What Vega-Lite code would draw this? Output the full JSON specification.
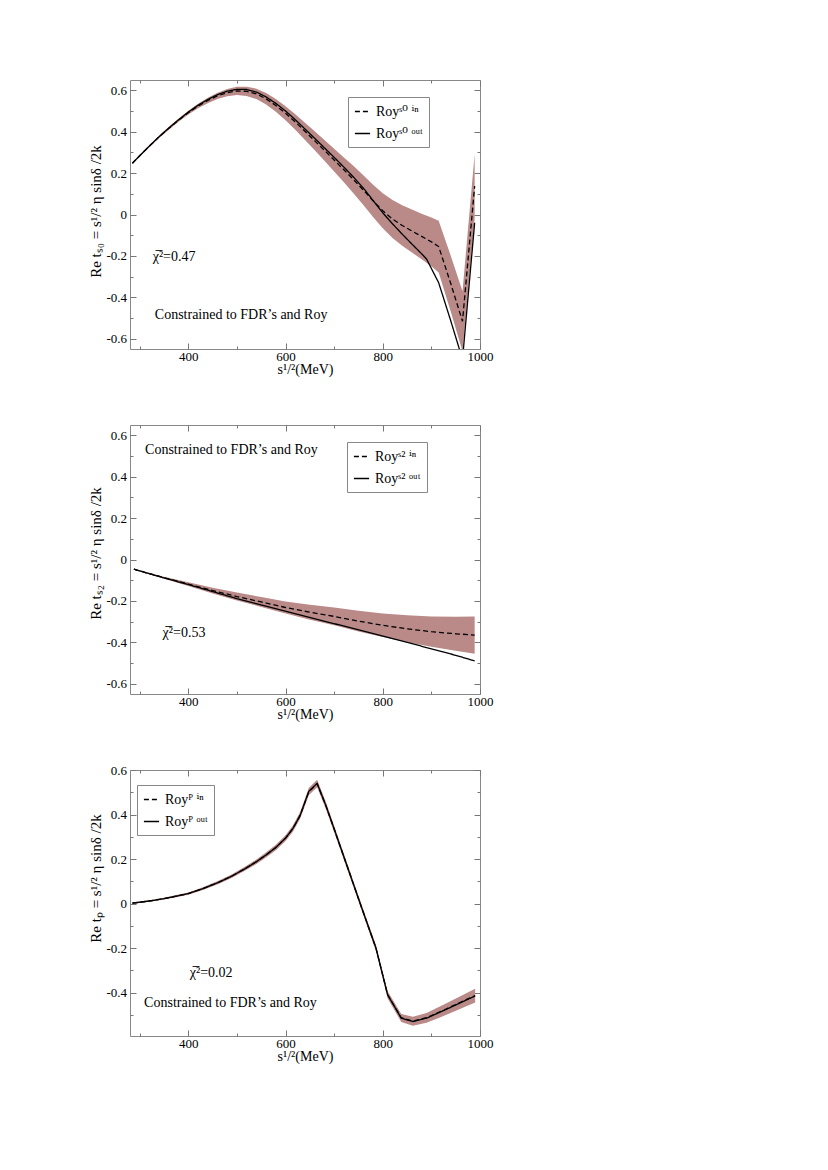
{
  "$schema": "https://vega.github.io/schema/vega-lite/v6.json",
  "padding": {"left": 87, "top": 79, "right": 10, "bottom": 10},
  "config": {
    "font": "Liberation Serif",
    "view": {"stroke": "#888", "strokeWidth": 1},
    "axis": {"labelFont": "Liberation Serif", "titleFont": "Liberation Serif", "labelColor": "black", "titleColor": "black", "titleFontWeight": "normal", "tickColor": "#777", "tickWidth": 1, "grid": false, "domain": false, "labelFlush": false, "labelOverlap": false},
    "legend": {"labelFont": "Liberation Serif, DejaVu Serif", "labelColor": "black"},
    "text": {"font": "Liberation Serif, DejaVu Serif", "color": "black"}
  },
  "datasets": {
    "S0": [
      {"x":285,"curve":"out","t":0.248},{"x":300,"curve":"out","t":0.284},{"x":320,"curve":"out","t":0.331},{"x":340,"curve":"out","t":0.376},{"x":360,"curve":"out","t":0.418},{"x":380,"curve":"out","t":0.458},{"x":400,"curve":"out","t":0.495},{"x":420,"curve":"out","t":0.528},{"x":440,"curve":"out","t":0.556},{"x":460,"curve":"out","t":0.579},{"x":480,"curve":"out","t":0.596},{"x":500,"curve":"out","t":0.605},{"x":520,"curve":"out","t":0.604},{"x":540,"curve":"out","t":0.592},{"x":560,"curve":"out","t":0.568},{"x":580,"curve":"out","t":0.537},{"x":600,"curve":"out","t":0.5},{"x":620,"curve":"out","t":0.458},{"x":640,"curve":"out","t":0.413},{"x":660,"curve":"out","t":0.368},{"x":680,"curve":"out","t":0.322},{"x":700,"curve":"out","t":0.276},{"x":720,"curve":"out","t":0.229},{"x":740,"curve":"out","t":0.18},{"x":760,"curve":"out","t":0.128},{"x":780,"curve":"out","t":0.068},{"x":800,"curve":"out","t":0.008},{"x":820,"curve":"out","t":-0.045},{"x":840,"curve":"out","t":-0.095},{"x":860,"curve":"out","t":-0.143},{"x":880,"curve":"out","t":-0.19},{"x":890,"curve":"out","t":-0.215},{"x":915,"curve":"out","t":-0.33},{"x":940,"curve":"out","t":-0.515},{"x":964,"curve":"out","t":-0.7},{"x":989,"curve":"out","t":-0.04},
      {"x":285,"curve":"in","t":0.248},{"x":300,"curve":"in","t":0.284},{"x":320,"curve":"in","t":0.331},{"x":340,"curve":"in","t":0.376},{"x":360,"curve":"in","t":0.417},{"x":380,"curve":"in","t":0.456},{"x":400,"curve":"in","t":0.492},{"x":420,"curve":"in","t":0.524},{"x":440,"curve":"in","t":0.551},{"x":460,"curve":"in","t":0.573},{"x":480,"curve":"in","t":0.589},{"x":500,"curve":"in","t":0.597},{"x":520,"curve":"in","t":0.595},{"x":540,"curve":"in","t":0.583},{"x":560,"curve":"in","t":0.559},{"x":580,"curve":"in","t":0.527},{"x":600,"curve":"in","t":0.489},{"x":620,"curve":"in","t":0.447},{"x":640,"curve":"in","t":0.402},{"x":660,"curve":"in","t":0.356},{"x":680,"curve":"in","t":0.31},{"x":700,"curve":"in","t":0.263},{"x":720,"curve":"in","t":0.216},{"x":740,"curve":"in","t":0.168},{"x":760,"curve":"in","t":0.118},{"x":780,"curve":"in","t":0.066},{"x":800,"curve":"in","t":0.018},{"x":820,"curve":"in","t":-0.022},{"x":840,"curve":"in","t":-0.053},{"x":860,"curve":"in","t":-0.08},{"x":880,"curve":"in","t":-0.106},{"x":900,"curve":"in","t":-0.132},{"x":915,"curve":"in","t":-0.155},{"x":940,"curve":"in","t":-0.335},{"x":964,"curve":"in","t":-0.516},{"x":989,"curve":"in","t":0.137}
    ],
    "S0band": [
      {"x":285,"lo":0.244,"hi":0.252},{"x":300,"lo":0.28,"hi":0.288},{"x":320,"lo":0.326,"hi":0.336},{"x":340,"lo":0.37,"hi":0.382},{"x":360,"lo":0.41,"hi":0.424},{"x":380,"lo":0.448,"hi":0.464},{"x":400,"lo":0.483,"hi":0.501},{"x":420,"lo":0.513,"hi":0.535},{"x":440,"lo":0.538,"hi":0.564},{"x":460,"lo":0.558,"hi":0.588},{"x":480,"lo":0.571,"hi":0.607},{"x":500,"lo":0.577,"hi":0.617},{"x":520,"lo":0.573,"hi":0.617},{"x":540,"lo":0.558,"hi":0.608},{"x":560,"lo":0.531,"hi":0.587},{"x":580,"lo":0.496,"hi":0.558},{"x":600,"lo":0.455,"hi":0.523},{"x":620,"lo":0.409,"hi":0.485},{"x":640,"lo":0.36,"hi":0.444},{"x":660,"lo":0.31,"hi":0.402},{"x":680,"lo":0.26,"hi":0.36},{"x":700,"lo":0.208,"hi":0.318},{"x":720,"lo":0.156,"hi":0.276},{"x":740,"lo":0.102,"hi":0.234},{"x":760,"lo":0.046,"hi":0.19},{"x":780,"lo":-0.012,"hi":0.144},{"x":800,"lo":-0.067,"hi":0.103},{"x":820,"lo":-0.114,"hi":0.07},{"x":840,"lo":-0.151,"hi":0.045},{"x":860,"lo":-0.184,"hi":0.024},{"x":880,"lo":-0.216,"hi":0.004},{"x":900,"lo":-0.25,"hi":-0.014},{"x":915,"lo":-0.28,"hi":-0.03},{"x":940,"lo":-0.47,"hi":-0.2},{"x":964,"lo":-0.661,"hi":-0.371},{"x":989,"lo":-0.018,"hi":0.292}
    ],
    "S2": [
      {"x":288,"curve":"out","t":-0.047},{"x":300,"curve":"out","t":-0.055},{"x":350,"curve":"out","t":-0.089},{"x":400,"curve":"out","t":-0.121},{"x":450,"curve":"out","t":-0.155},{"x":500,"curve":"out","t":-0.189},{"x":550,"curve":"out","t":-0.22},{"x":600,"curve":"out","t":-0.25},{"x":650,"curve":"out","t":-0.28},{"x":700,"curve":"out","t":-0.31},{"x":750,"curve":"out","t":-0.34},{"x":800,"curve":"out","t":-0.37},{"x":850,"curve":"out","t":-0.4},{"x":900,"curve":"out","t":-0.432},{"x":950,"curve":"out","t":-0.463},{"x":989,"curve":"out","t":-0.49},
      {"x":288,"curve":"in","t":-0.047},{"x":300,"curve":"in","t":-0.055},{"x":350,"curve":"in","t":-0.088},{"x":400,"curve":"in","t":-0.119},{"x":450,"curve":"in","t":-0.15},{"x":500,"curve":"in","t":-0.179},{"x":550,"curve":"in","t":-0.205},{"x":600,"curve":"in","t":-0.232},{"x":650,"curve":"in","t":-0.255},{"x":700,"curve":"in","t":-0.275},{"x":750,"curve":"in","t":-0.298},{"x":800,"curve":"in","t":-0.318},{"x":850,"curve":"in","t":-0.335},{"x":900,"curve":"in","t":-0.349},{"x":950,"curve":"in","t":-0.359},{"x":989,"curve":"in","t":-0.365}
    ],
    "S2band": [
      {"x":288,"lo":-0.049,"hi":-0.045},{"x":300,"lo":-0.058,"hi":-0.052},{"x":350,"lo":-0.093,"hi":-0.083},{"x":400,"lo":-0.128,"hi":-0.11},{"x":450,"lo":-0.164,"hi":-0.136},{"x":500,"lo":-0.198,"hi":-0.16},{"x":550,"lo":-0.229,"hi":-0.181},{"x":600,"lo":-0.261,"hi":-0.203},{"x":650,"lo":-0.291,"hi":-0.219},{"x":700,"lo":-0.318,"hi":-0.232},{"x":750,"lo":-0.348,"hi":-0.248},{"x":800,"lo":-0.375,"hi":-0.261},{"x":850,"lo":-0.4,"hi":-0.27},{"x":900,"lo":-0.422,"hi":-0.276},{"x":950,"lo":-0.441,"hi":-0.277},{"x":989,"lo":-0.455,"hi":-0.275}
    ],
    "P": [
      {"x":285,"curve":"out","t":0.002},{"x":300,"curve":"out","t":0.006},{"x":325,"curve":"out","t":0.013},{"x":350,"curve":"out","t":0.022},{"x":375,"curve":"out","t":0.033},{"x":400,"curve":"out","t":0.045},{"x":430,"curve":"out","t":0.067},{"x":462,"curve":"out","t":0.095},{"x":490,"curve":"out","t":0.124},{"x":517,"curve":"out","t":0.157},{"x":540,"curve":"out","t":0.188},{"x":559,"curve":"out","t":0.217},{"x":580,"curve":"out","t":0.252},{"x":600,"curve":"out","t":0.294},{"x":615,"curve":"out","t":0.337},{"x":630,"curve":"out","t":0.396},{"x":648,"curve":"out","t":0.505},{"x":665,"curve":"out","t":0.54},{"x":683,"curve":"out","t":0.44},{"x":700,"curve":"out","t":0.335},{"x":720,"curve":"out","t":0.21},{"x":740,"curve":"out","t":0.085},{"x":760,"curve":"out","t":-0.04},{"x":786,"curve":"out","t":-0.2},{"x":810,"curve":"out","t":-0.41},{"x":838,"curve":"out","t":-0.515},{"x":862,"curve":"out","t":-0.53},{"x":890,"curve":"out","t":-0.515},{"x":931,"curve":"out","t":-0.475},{"x":990,"curve":"out","t":-0.415},
      {"x":285,"curve":"in","t":0.002},{"x":300,"curve":"in","t":0.006},{"x":325,"curve":"in","t":0.013},{"x":350,"curve":"in","t":0.022},{"x":375,"curve":"in","t":0.033},{"x":400,"curve":"in","t":0.045},{"x":430,"curve":"in","t":0.067},{"x":462,"curve":"in","t":0.095},{"x":490,"curve":"in","t":0.124},{"x":517,"curve":"in","t":0.157},{"x":540,"curve":"in","t":0.188},{"x":559,"curve":"in","t":0.217},{"x":580,"curve":"in","t":0.252},{"x":600,"curve":"in","t":0.294},{"x":615,"curve":"in","t":0.337},{"x":630,"curve":"in","t":0.396},{"x":648,"curve":"in","t":0.503},{"x":665,"curve":"in","t":0.538},{"x":683,"curve":"in","t":0.44},{"x":700,"curve":"in","t":0.335},{"x":720,"curve":"in","t":0.21},{"x":740,"curve":"in","t":0.085},{"x":760,"curve":"in","t":-0.04},{"x":786,"curve":"in","t":-0.2},{"x":810,"curve":"in","t":-0.41},{"x":838,"curve":"in","t":-0.513},{"x":862,"curve":"in","t":-0.528},{"x":890,"curve":"in","t":-0.513},{"x":931,"curve":"in","t":-0.473},{"x":990,"curve":"in","t":-0.413}
    ],
    "Pband": [
      {"x":285,"lo":-0.001,"hi":0.005},{"x":300,"lo":0.003,"hi":0.009},{"x":325,"lo":0.009,"hi":0.017},{"x":350,"lo":0.018,"hi":0.026},{"x":375,"lo":0.028,"hi":0.038},{"x":400,"lo":0.04,"hi":0.05},{"x":430,"lo":0.061,"hi":0.073},{"x":462,"lo":0.088,"hi":0.102},{"x":490,"lo":0.116,"hi":0.132},{"x":517,"lo":0.148,"hi":0.166},{"x":540,"lo":0.178,"hi":0.198},{"x":559,"lo":0.206,"hi":0.228},{"x":580,"lo":0.24,"hi":0.264},{"x":600,"lo":0.281,"hi":0.307},{"x":615,"lo":0.323,"hi":0.351},{"x":630,"lo":0.381,"hi":0.411},{"x":648,"lo":0.488,"hi":0.52},{"x":665,"lo":0.522,"hi":0.556},{"x":683,"lo":0.424,"hi":0.456},{"x":700,"lo":0.32,"hi":0.35},{"x":720,"lo":0.196,"hi":0.224},{"x":740,"lo":0.072,"hi":0.098},{"x":760,"lo":-0.053,"hi":-0.027},{"x":786,"lo":-0.214,"hi":-0.186},{"x":810,"lo":-0.426,"hi":-0.394},{"x":838,"lo":-0.532,"hi":-0.496},{"x":862,"lo":-0.549,"hi":-0.509},{"x":890,"lo":-0.536,"hi":-0.492},{"x":931,"lo":-0.5,"hi":-0.448},{"x":990,"lo":-0.445,"hi":-0.383}
    ]
  },
  "spacing": 76,
  "bounds": "flush",
  "resolve": {"scale": {"strokeDash": "independent"}, "legend": {"strokeDash": "independent"}},
  "vconcat": [
    {
      "width": 350, "height": 269,
      "resolve": {"axis": {"x": "independent", "y": "independent"}},
      "layer": [
        {"data": {"name": "S0band"}, "mark": {"type": "area", "color": "#b98a88", "opacity": 1, "clip": true},
         "encoding": {
           "x": {"field": "x", "type": "quantitative", "scale": {"domain": [280, 1000], "nice": false, "zero": false},
                 "axis": {"orient": "bottom", "values": [300,400,500,600,700,800,900,1000], "format": "d", "tickSize": {"condition": {"test": "datum.value % 200 === 0", "value": -6}, "value": -3}, "labelExpr": "datum.value % 200 === 0 ? datum.label : ''", "labelFont": "Liberation Serif", "labelFontSize": 13, "labelPadding": 17, "labelBaseline": "alphabetic", "title": "s¹/²(MeV)", "titleFont": "Liberation Serif", "titleFontSize": 14, "titleY": 24.5, "titleBaseline": "alphabetic"}},
           "y": {"field": "lo", "type": "quantitative", "scale": {"domain": [-0.65, 0.65], "nice": false, "zero": false},
                 "axis": {"orient": "left", "values": [-0.6,-0.5,-0.4,-0.3,-0.2,-0.1,0,0.1,0.2,0.3,0.4,0.5,0.6], "format": ".1~f", "tickSize": {"condition": {"test": "abs(datum.value*5 - round(datum.value*5)) < 0.000001", "value": -6}, "value": -3}, "labelExpr": "abs(datum.value*5 - round(datum.value*5)) < 0.000001 ? replace(datum.label, '−', '-') : ''", "labelFont": "Liberation Serif", "labelFontSize": 13, "labelPadding": 9.5, "title": "Re tₛ₀ = s¹/² η sinδ /2k", "titleFont": "Liberation Serif", "titleFontSize": 15, "titleX": -30, "titleY": 131, "titleBaseline": "alphabetic", "titleAlign": "center"}},
           "y2": {"field": "hi"}
         }},
        {"data": {"name": "S0"}, "mark": {"type": "line", "color": "black", "strokeWidth": 1.3, "clip": true},
         "encoding": {
           "x": {"field": "x", "type": "quantitative", "scale": {"domain": [280, 1000], "nice": false, "zero": false},
                 "axis": {"orient": "top", "values": [300,400,500,600,700,800,900,1000], "tickSize": {"condition": {"test": "datum.value % 200 === 0", "value": -6}, "value": -3}, "labels": false, "title": null}},
           "y": {"field": "t", "type": "quantitative", "scale": {"domain": [-0.65, 0.65], "nice": false, "zero": false},
                 "axis": {"orient": "right", "values": [-0.6,-0.5,-0.4,-0.3,-0.2,-0.1,0,0.1,0.2,0.3,0.4,0.5,0.6], "tickSize": {"condition": {"test": "abs(datum.value*5 - round(datum.value*5)) < 0.000001", "value": -6}, "value": -3}, "labels": false, "title": null}},
           "strokeDash": {"field": "curve", "type": "nominal", "scale": {"domain": ["in", "out"], "range": [[5, 3], [1, 0]]},
                 "legend": {"orient": "none", "legendX": 218, "legendY": 17, "title": null, "labelExpr": "datum.label === 'in' ? 'Royˢ⁰ ⁱⁿ' : 'Royˢ⁰ ᵒᵘᵗ'", "strokeColor": "#888", "fillColor": "white", "padding": 6, "rowPadding": 6, "symbolType": "stroke", "symbolSize": 230, "symbolStrokeWidth": 1.3, "symbolStrokeColor": "black", "labelFontSize": 14, "labelOffset": 5}}
         }},
        {"data": {"values": [{}]}, "mark": {"type": "text", "text": "Constrained to FDR’s and Roy", "align": "left", "baseline": "middle", "fontSize": 14},
         "encoding": {"x": {"datum": 331, "type": "quantitative", "axis": null, "scale": {"domain": [280, 1000], "nice": false, "zero": false}}, "y": {"datum": -0.486, "type": "quantitative", "axis": null, "scale": {"domain": [-0.65, 0.65], "nice": false, "zero": false}}}},
        {"data": {"values": [{}]}, "mark": {"type": "text", "text": "χ̅²=0.47", "align": "left", "baseline": "middle", "fontSize": 14},
         "encoding": {"x": {"datum": 326.7, "type": "quantitative", "axis": null, "scale": {"domain": [280, 1000], "nice": false, "zero": false}}, "y": {"datum": -0.204, "type": "quantitative", "axis": null, "scale": {"domain": [-0.65, 0.65], "nice": false, "zero": false}}}}
      ]
    },
    {
      "width": 350, "height": 269,
      "resolve": {"axis": {"x": "independent", "y": "independent"}},
      "layer": [
        {"data": {"name": "S2band"}, "mark": {"type": "area", "color": "#b98a88", "opacity": 1, "clip": true},
         "encoding": {
           "x": {"field": "x", "type": "quantitative", "scale": {"domain": [280, 1000], "nice": false, "zero": false},
                 "axis": {"orient": "bottom", "values": [300,400,500,600,700,800,900,1000], "format": "d", "tickSize": {"condition": {"test": "datum.value % 200 === 0", "value": -6}, "value": -3}, "labelExpr": "datum.value % 200 === 0 ? datum.label : ''", "labelFont": "Liberation Serif", "labelFontSize": 13, "labelPadding": 17, "labelBaseline": "alphabetic", "title": "s¹/²(MeV)", "titleFont": "Liberation Serif", "titleFontSize": 14, "titleY": 24.5, "titleBaseline": "alphabetic"}},
           "y": {"field": "lo", "type": "quantitative", "scale": {"domain": [-0.65, 0.65], "nice": false, "zero": false},
                 "axis": {"orient": "left", "values": [-0.6,-0.5,-0.4,-0.3,-0.2,-0.1,0,0.1,0.2,0.3,0.4,0.5,0.6], "format": ".1~f", "tickSize": {"condition": {"test": "abs(datum.value*5 - round(datum.value*5)) < 0.000001", "value": -6}, "value": -3}, "labelExpr": "abs(datum.value*5 - round(datum.value*5)) < 0.000001 ? replace(datum.label, '−', '-') : ''", "labelFont": "Liberation Serif", "labelFontSize": 13, "labelPadding": 9.5, "title": "Re tₛ₂ = s¹/² η sinδ /2k", "titleFont": "Liberation Serif", "titleFontSize": 15, "titleX": -30, "titleY": 128, "titleBaseline": "alphabetic", "titleAlign": "center"}},
           "y2": {"field": "hi"}
         }},
        {"data": {"name": "S2"}, "mark": {"type": "line", "color": "black", "strokeWidth": 1.3, "clip": true},
         "encoding": {
           "x": {"field": "x", "type": "quantitative", "scale": {"domain": [280, 1000], "nice": false, "zero": false},
                 "axis": {"orient": "top", "values": [300,400,500,600,700,800,900,1000], "tickSize": {"condition": {"test": "datum.value % 200 === 0", "value": -6}, "value": -3}, "labels": false, "title": null}},
           "y": {"field": "t", "type": "quantitative", "scale": {"domain": [-0.65, 0.65], "nice": false, "zero": false},
                 "axis": {"orient": "right", "values": [-0.6,-0.5,-0.4,-0.3,-0.2,-0.1,0,0.1,0.2,0.3,0.4,0.5,0.6], "tickSize": {"condition": {"test": "abs(datum.value*5 - round(datum.value*5)) < 0.000001", "value": -6}, "value": -3}, "labels": false, "title": null}},
           "strokeDash": {"field": "curve", "type": "nominal", "scale": {"domain": ["in", "out"], "range": [[5, 3], [1, 0]]},
                 "legend": {"orient": "none", "legendX": 217, "legendY": 17, "title": null, "labelExpr": "datum.label === 'in' ? 'Royˢ² ⁱⁿ' : 'Royˢ² ᵒᵘᵗ'", "strokeColor": "#888", "fillColor": "white", "padding": 6, "rowPadding": 6, "symbolType": "stroke", "symbolSize": 230, "symbolStrokeWidth": 1.3, "symbolStrokeColor": "black", "labelFontSize": 14, "labelOffset": 5}}
         }},
        {"data": {"values": [{}]}, "mark": {"type": "text", "text": "Constrained to FDR’s and Roy", "align": "left", "baseline": "middle", "fontSize": 14},
         "encoding": {"x": {"datum": 311, "type": "quantitative", "axis": null, "scale": {"domain": [280, 1000], "nice": false, "zero": false}}, "y": {"datum": 0.529, "type": "quantitative", "axis": null, "scale": {"domain": [-0.65, 0.65], "nice": false, "zero": false}}}},
        {"data": {"values": [{}]}, "mark": {"type": "text", "text": "χ̅²=0.53", "align": "left", "baseline": "middle", "fontSize": 14},
         "encoding": {"x": {"datum": 347, "type": "quantitative", "axis": null, "scale": {"domain": [280, 1000], "nice": false, "zero": false}}, "y": {"datum": -0.357, "type": "quantitative", "axis": null, "scale": {"domain": [-0.65, 0.65], "nice": false, "zero": false}}}}
      ]
    },
    {
      "width": 350, "height": 266,
      "resolve": {"axis": {"x": "independent", "y": "independent"}},
      "layer": [
        {"data": {"name": "Pband"}, "mark": {"type": "area", "color": "#b98a88", "opacity": 1, "clip": true},
         "encoding": {
           "x": {"field": "x", "type": "quantitative", "scale": {"domain": [280, 1000], "nice": false, "zero": false},
                 "axis": {"orient": "bottom", "values": [300,400,500,600,700,800,900,1000], "format": "d", "tickSize": {"condition": {"test": "datum.value % 200 === 0", "value": -6}, "value": -3}, "labelExpr": "datum.value % 200 === 0 ? datum.label : ''", "labelFont": "Liberation Serif", "labelFontSize": 13, "labelPadding": 17, "labelBaseline": "alphabetic", "title": "s¹/²(MeV)", "titleFont": "Liberation Serif", "titleFontSize": 14, "titleY": 24.5, "titleBaseline": "alphabetic"}},
           "y": {"field": "lo", "type": "quantitative", "scale": {"domain": [-0.595, 0.6], "nice": false, "zero": false},
                 "axis": {"orient": "left", "values": [-0.5,-0.4,-0.3,-0.2,-0.1,0,0.1,0.2,0.3,0.4,0.5,0.6], "format": ".1~f", "tickSize": {"condition": {"test": "abs(datum.value*5 - round(datum.value*5)) < 0.000001", "value": -6}, "value": -3}, "labelExpr": "abs(datum.value*5 - round(datum.value*5)) < 0.000001 ? replace(datum.label, '−', '-') : ''", "labelFont": "Liberation Serif", "labelFontSize": 13, "labelPadding": 9.5, "title": "Re tₚ = s¹/² η sinδ /2k", "titleFont": "Liberation Serif", "titleFontSize": 15, "titleX": -30, "titleY": 108, "titleBaseline": "alphabetic", "titleAlign": "center"}},
           "y2": {"field": "hi"}
         }},
        {"data": {"name": "P"}, "mark": {"type": "line", "color": "black", "strokeWidth": 1.3, "clip": true},
         "encoding": {
           "x": {"field": "x", "type": "quantitative", "scale": {"domain": [280, 1000], "nice": false, "zero": false},
                 "axis": {"orient": "top", "values": [300,400,500,600,700,800,900,1000], "tickSize": {"condition": {"test": "datum.value % 200 === 0", "value": -6}, "value": -3}, "labels": false, "title": null}},
           "y": {"field": "t", "type": "quantitative", "scale": {"domain": [-0.595, 0.6], "nice": false, "zero": false},
                 "axis": {"orient": "right", "values": [-0.5,-0.4,-0.3,-0.2,-0.1,0,0.1,0.2,0.3,0.4,0.5,0.6], "tickSize": {"condition": {"test": "abs(datum.value*5 - round(datum.value*5)) < 0.000001", "value": -6}, "value": -3}, "labels": false, "title": null}},
           "strokeDash": {"field": "curve", "type": "nominal", "scale": {"domain": ["in", "out"], "range": [[5, 3], [1, 0]]},
                 "legend": {"orient": "none", "legendX": 7, "legendY": 15, "title": null, "labelExpr": "datum.label === 'in' ? 'Royᴾ ⁱⁿ' : 'Royᴾ ᵒᵘᵗ'", "strokeColor": "#888", "fillColor": "white", "padding": 6, "rowPadding": 6, "symbolType": "stroke", "symbolSize": 230, "symbolStrokeWidth": 1.3, "symbolStrokeColor": "black", "labelFontSize": 14, "labelOffset": 5}}
         }},
        {"data": {"values": [{}]}, "mark": {"type": "text", "text": "Constrained to FDR’s and Roy", "align": "left", "baseline": "middle", "fontSize": 14},
         "encoding": {"x": {"datum": 309, "type": "quantitative", "axis": null, "scale": {"domain": [280, 1000], "nice": false, "zero": false}}, "y": {"datum": -0.448, "type": "quantitative", "axis": null, "scale": {"domain": [-0.595, 0.6], "nice": false, "zero": false}}}},
        {"data": {"values": [{}]}, "mark": {"type": "text", "text": "χ̅²=0.02", "align": "left", "baseline": "middle", "fontSize": 14},
         "encoding": {"x": {"datum": 403, "type": "quantitative", "axis": null, "scale": {"domain": [280, 1000], "nice": false, "zero": false}}, "y": {"datum": -0.313, "type": "quantitative", "axis": null, "scale": {"domain": [-0.595, 0.6], "nice": false, "zero": false}}}}
      ]
    }
  ]
}
